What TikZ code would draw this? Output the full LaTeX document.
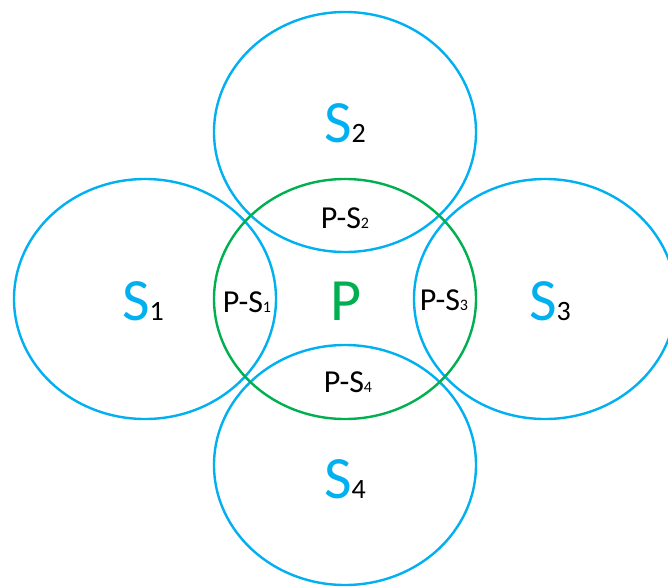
\documentclass[tikz,border=0pt]{standalone}
\usepackage{fontspec}
\setmainfont{Carlito}
\usetikzlibrary{shapes.geometric}
\definecolor{scyan}{HTML}{00B0F0}
\definecolor{pgreen}{HTML}{00B050}
\newcommand{\setname}[1]{S{\color{black}\fontsize{28}{28}\selectfont #1}}
\newcommand{\diffname}[1]{P-S{\fontsize{16}{16}\selectfont #1}}
\tikzset{
  setb/.style={ellipse,draw=scyan,line width=2.4pt,minimum width=262pt,minimum height=240pt,inner sep=0pt},
  pset/.style={setb,draw=pgreen},
  biglbl/.style={anchor=base,text=scyan,font=\fontsize{60}{60}\selectfont,inner sep=0pt},
  plbl/.style={anchor=base,text=pgreen,font=\fontsize{60}{60}\selectfont,inner sep=0pt},
  difflbl/.style={anchor=base,text=black,font=\fontsize{32}{32}\selectfont,inner sep=0pt},
}
\begin{document}
\begin{tikzpicture}[x=1pt,y=-1pt]
  \useasboundingbox (0,0) rectangle (668,586);
  % the four sets S1..S4
  \foreach \n/\x/\y in {1/145/299,2/345/132,3/545/299,4/345/465} {
    \node[setb] (s\n) at (\x,\y) {};
  }
  \node[pset] (p) at (345,299) {};
  % set names
  \foreach \n/\x/\y in {1/143/320,2/345/142,3/550/320,4/345/498} {
    \node[biglbl] (ls\n) at (\x,\y) {\setname{\n}};
  }
  \node[plbl] (lp) at (346,320) {P};
  % overlaps
  \node[difflbl] (d1) at (247,312) {\diffname{1}};
  \node[difflbl] (d2) at (345,228) {\diffname{2}};
  \node[difflbl] (d3) at (444,310) {\diffname{3}};
  \node[difflbl] (d4) at (348,392) {\diffname{4}};
\end{tikzpicture}
\end{document}
